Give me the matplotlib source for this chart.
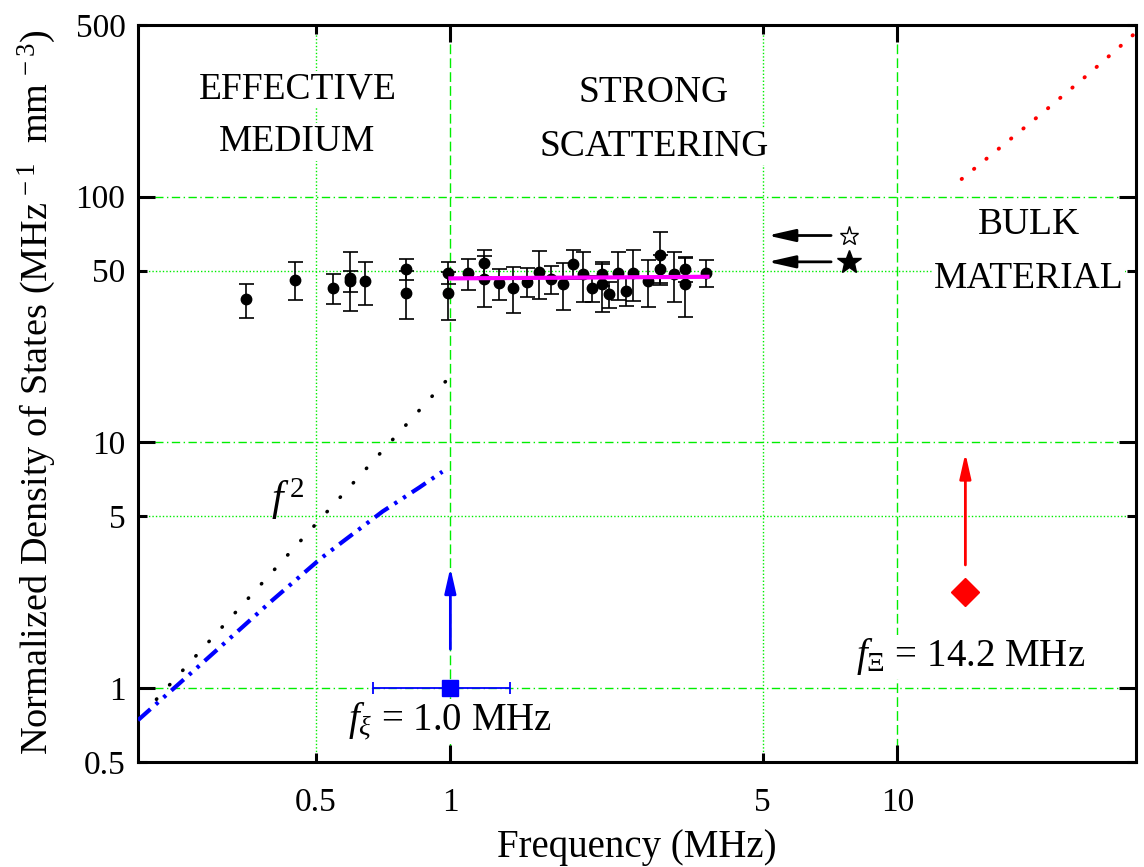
import matplotlib
matplotlib.use("Agg")
import matplotlib.pyplot as plt
from matplotlib.ticker import FixedLocator, FixedFormatter

plt.rcParams["font.family"] = ["Liberation Serif", "DejaVu Serif"]
plt.rcParams["mathtext.fontset"] = "custom"
plt.rcParams["mathtext.rm"] = "Liberation Serif"
plt.rcParams["mathtext.it"] = "Liberation Serif:italic"
plt.rcParams["mathtext.bf"] = "Liberation Serif:bold"

# Measured density of states (MHz^-1 mm^-3) with error bars
freq = [0.349, 0.449, 0.547, 0.597, 0.597, 0.644, 0.796, 0.796, 0.99, 0.99,
        1.093, 1.187, 1.187, 1.287, 1.383, 1.487, 1.582, 1.680, 1.783, 1.877,
        1.977, 2.075, 2.181, 2.181, 2.268, 2.376, 2.472, 2.567, 2.763, 2.945,
        2.945, 3.160, 3.35, 3.35, 3.73]
dos = [38.2, 46.0, 42.6, 46.8, 45.4, 45.3, 50.7, 40.7, 49.1, 40.5,
       48.8, 53.9, 46.4, 44.4, 42.6, 45.1, 49.3, 46.1, 44.0, 53.4,
       48.4, 42.4, 48.4, 44.0, 40.1, 48.8, 41.3, 49.1, 45.4, 58.0,
       50.7, 48.4, 51.0, 44.3, 49.0]
dos_err = [6, 8, 6, 12.5, 4.5, 9, 5, 9, 5, 9,
           7, 7, 11, 6.5, 9, 6, 11, 6, 9.5, 7,
           11, 5, 5, 10, 5, 11, 5.5, 11.5, 10, 13.5,
           7, 11, 6, 12, 6]

# Mean level in the strong-scattering regime
mean_freq = [1.0, 3.76]
mean_dos = [46.5, 47.2]

# Effective-medium model curve
em_freq = [0.2, 0.278, 0.40, 0.513, 0.574, 0.705, 0.852, 0.96]
em_dos = [0.74, 1.26, 2.28, 3.37, 3.94, 5.23, 6.55, 7.6]

# f^2 reference line
f2_freq = [0.22, 1.02]
f2_coef = 18.6

# Bulk material curve
bulk_freq = [13.93, 16.85, 21.4, 27.1, 33.96, 36.0]
bulk_dos = [118, 156.6, 223.7, 321.6, 461, 505]

# Characteristic frequencies
f_xi = 1.0
f_xi_err = [[0.33], [0.36]]
f_Xi = 14.2
f_Xi_dos = 2.46

# Literature values marked by stars
star_freq = 7.81
star_open_dos = 69.5
star_filled_dos = 54.3

xlim = (0.2, 34.2)
ylim = (0.5, 500)
green = "#00ee00"

fig = plt.figure(figsize=(11.44, 8.67), dpi=100)
ax = fig.add_axes([0.1206, 0.1211, 0.8724, 0.8501])
ax.set_xscale("log")
ax.set_yscale("log")
ax.set_xlim(*xlim)
ax.set_ylim(*ylim)

# Grid lines
for v in [1, 10]:
    ax.axvline(v, color=green, lw=1.0, dashes=(7, 3), zorder=0)
for v in [0.5, 5]:
    ax.axvline(v, color=green, lw=1.0, dashes=(1, 1.5), zorder=0)
for v in [1, 10, 100]:
    ax.axhline(v, color=green, lw=1.0, dashes=(6, 2.5, 1, 2.5), zorder=0)
for v in [5, 50]:
    ax.axhline(v, color=green, lw=1.0, dashes=(1, 1.5), zorder=0)

# Data with error bars
ax.errorbar(freq, dos, yerr=dos_err, fmt="o", color="black", ms=7.5,
            elinewidth=1.2, capsize=5.4, capthick=1.2, zorder=4)
ax.plot(mean_freq, mean_dos, color="#ff00ff", lw=3, zorder=5)

# Model curves
ax.plot(em_freq, em_dos, color="#0000ff", lw=3,
        dashes=(4, 1.7, 0.8, 1.7, 0.8, 1.7), zorder=3)
f2x = f2_freq
f2y = [f2_coef * f ** 2 for f in f2x]
ax.plot(f2x, f2y, color="black", lw=2.6, dashes=(0.1, 5.3),
        dash_capstyle="round", zorder=3)
ax.plot(bulk_freq, bulk_dos, color="red", lw=2.8, dashes=(0.1, 4.0),
        dash_capstyle="round", zorder=3)

arrow_style = "-|>,head_length=0.75,head_width=0.17"

# Characteristic frequencies and arrows
ax.errorbar([f_xi], [1.0], xerr=f_xi_err, fmt="s", color="#0000ff", ms=11,
            elinewidth=1.3, capsize=4, capthick=1.3, zorder=6)
ax.annotate("", xy=(f_xi, 3.09), xytext=(f_xi, 1.44),
            arrowprops=dict(arrowstyle=arrow_style, color="#0000ff", lw=2,
                            shrinkA=0, shrinkB=0, mutation_scale=20))
ax.plot([f_Xi], [f_Xi_dos], "D", color="red", ms=14, zorder=6)
ax.annotate("", xy=(f_Xi, 9.04), xytext=(f_Xi, 3.17),
            arrowprops=dict(arrowstyle=arrow_style, color="red", lw=2,
                            shrinkA=0, shrinkB=0, mutation_scale=20))

# Stars with arrows
ax.plot([star_freq], [star_open_dos], "*", mfc="white", mec="black",
        mew=1.0, ms=14, zorder=6)
ax.plot([star_freq], [star_filled_dos], "*", color="black", ms=18, zorder=6)
for yv in [star_open_dos, star_filled_dos]:
    ax.annotate("", xy=(5.13, yv), xytext=(7.11, yv),
                arrowprops=dict(arrowstyle=arrow_style, color="black", lw=2,
                                shrinkA=0, shrinkB=0, mutation_scale=22))

# Region labels
box = dict(facecolor="white", edgecolor="none", pad=1)
ax.text(0.455, 273, "EFFECTIVE", ha="center", va="center", fontsize=27, bbox=box)
ax.text(0.455, 167, "MEDIUM", ha="center", va="center", fontsize=27, bbox=box)
ax.text(2.85, 265, "STRONG", ha="center", va="center", fontsize=27, bbox=box)
ax.text(2.85, 160, "SCATTERING", ha="center", va="center", fontsize=27, bbox=box)
ax.text(19.7, 77, "BULK", ha="center", va="center", fontsize=27, bbox=box)
ax.text(19.7, 46.3, "MATERIAL", ha="center", va="center", fontsize=27, bbox=box)

ax.text(0.432, 5.9, r"$f^{\,2}$", ha="center", va="center", fontsize=30)
ax.text(1.0, 0.733, r"$f_{\xi}$ = 1.0 MHz", ha="center", va="center",
        fontsize=28, bbox=box)
ax.text(14.6, 1.338, r"$f_{\Xi}$ = 14.2 MHz", ha="center", va="center",
        fontsize=28, bbox=box)

# Axes, ticks and labels
x_major = [1, 10]
x_minor = [0.5, 5]
y_major = [1, 10, 100]
y_minor = [0.5, 5, 50, 500]
ax.xaxis.set_major_locator(FixedLocator(x_major))
ax.xaxis.set_major_formatter(FixedFormatter(["1", "10"]))
ax.xaxis.set_minor_locator(FixedLocator(x_minor))
ax.xaxis.set_minor_formatter(FixedFormatter(["0.5", "5"]))
ax.yaxis.set_major_locator(FixedLocator(y_major))
ax.yaxis.set_major_formatter(FixedFormatter(["1", "10", "100"]))
ax.yaxis.set_minor_locator(FixedLocator(y_minor))
ax.yaxis.set_minor_formatter(FixedFormatter(["0.5", "5", "50", "500"]))

ax.tick_params(which="both", direction="in", top=True, right=True,
               width=2.2, labelsize=24)
ax.tick_params(which="major", length=12)
ax.tick_params(which="minor", length=6.5)
ax.tick_params(axis="x", which="both", pad=18)
ax.tick_params(axis="y", which="both", pad=9)
for s in ax.spines.values():
    s.set_linewidth(2.2)

ax.set_xlabel("Frequency (MHz)", fontsize=28, labelpad=8)
fig.text(37 / 1144, 1 - 392 / 867,
         r"Normalized Density of States (MHz$^{\,-1}$  mm$^{\,-3}$)",
         rotation=90, ha="center", va="center", fontsize=27.5)

fig.savefig("out.png", dpi=100)
